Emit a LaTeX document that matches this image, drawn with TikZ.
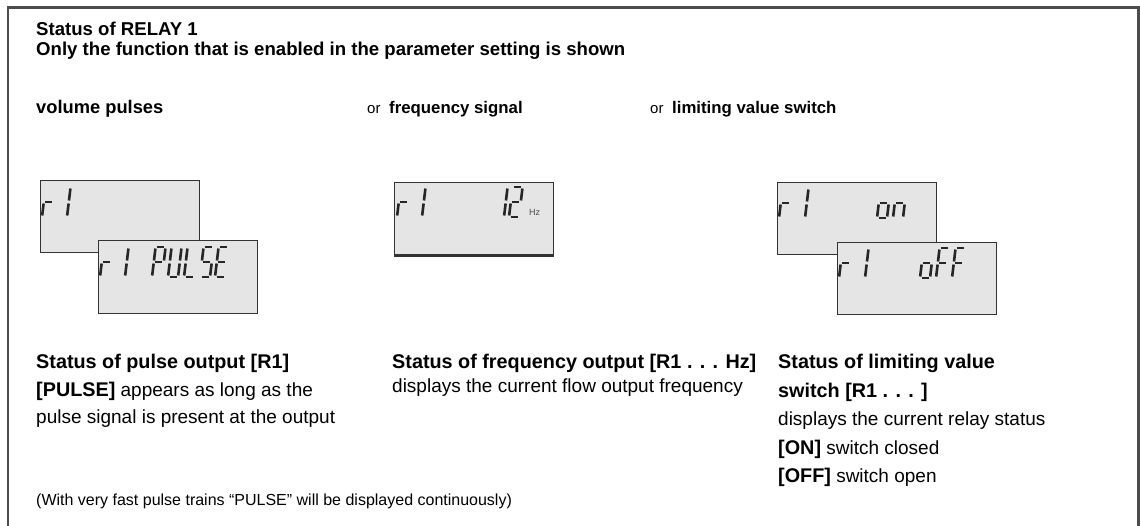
\documentclass[tikz,border=0pt]{standalone}
\usepackage{fontspec}
\setmainfont{Liberation Sans}
\tikzset{
  frame/.style={line width=2.2pt, draw=black!70},
  lcdbox/.style={fill=black!10, draw=black!80, line width=1.4pt, anchor=north west, inner sep=0pt, minimum width=159pt, minimum height=72pt},
  lcdseg/.style={line width=2.6pt, draw=black!85, line cap=butt},
  base/.style={anchor=base west, inner sep=0pt},
  txt/.style={base, font=\fontsize{19}{22}\selectfont},
  btxt/.style={base, font=\bfseries\fontsize{19.8}{22}\selectfont},
  hdr/.style={base, font=\bfseries\fontsize{18.6}{21}\selectfont},
  orlbl/.style={base, font=\fontsize{15}{18}\selectfont},
  note/.style={base, font=\fontsize{16}{19}\selectfont},
  hz/.style={base, font=\fontsize{9}{10}\selectfont, text=black!70}
}
\newcommand\bx[1]{{\bfseries\fontsize{19.8}{22}\selectfont #1}}
% segment coordinates: xa/ya/xb/yb  (local, y upward, W=10, H=30)
\def\chR{0/1.5/0/13.5, 1.5/15/8.5/15}
\def\chI{0/1.5/0/13.5, 0/16.5/0/28.5}
\def\chP{1.5/30/8.5/30, 10/28.5/10/16.5, 1.5/15/8.5/15, 0/1.5/0/13.5, 0/16.5/0/28.5}
\def\chU{10/28.5/10/16.5, 10/13.5/10/1.5, 1.5/0/8.5/0, 0/1.5/0/13.5, 0/16.5/0/28.5}
\def\chL{1.5/0/8.5/0, 0/1.5/0/13.5, 0/16.5/0/28.5}
\def\chS{1.5/30/8.5/30, 0/16.5/0/28.5, 1.5/15/8.5/15, 10/13.5/10/1.5, 1.5/0/8.5/0}
\def\chE{1.5/30/8.5/30, 0/16.5/0/28.5, 1.5/15/8.5/15, 0/1.5/0/13.5, 1.5/0/8.5/0}
\def\chO{10/13.5/10/1.5, 1.5/0/8.5/0, 0/1.5/0/13.5, 1.5/15/8.5/15}
\def\chN{10/13.5/10/1.5, 0/1.5/0/13.5, 1.5/15/8.5/15}
\def\chF{1.5/30/8.5/30, 0/16.5/0/28.5, 1.5/15/8.5/15, 0/1.5/0/13.5}
\def\chTwo{1.5/30/8.5/30, 10/28.5/10/16.5, 1.5/15/8.5/15, 0/1.5/0/13.5, 1.5/0/8.5/0}
\newcommand\lcdch[3]{%
  \begin{scope}[shift={(#1,#2)}, xslant=0.12, yscale=-1]
    \foreach \xa/\ya/\xb/\yb in #3 {\draw[lcdseg] (\xa,\ya) -- (\xb,\yb);}
  \end{scope}}
\begin{document}
\begin{tikzpicture}[x=1pt, y=-1pt]
\useasboundingbox (0,0) rectangle (1140,526);
\clip (0,0) rectangle (1140,526);
% outer frame (open at the bottom)
\draw[frame] (8,540) -- (8,7.5) -- (1138.5,7.5) -- (1138.5,540);

% header
\node[hdr] (h1) at (36,36) {Status of RELAY 1};
\node[hdr] (h2) at (36,56) {Only the function that is enabled in the parameter setting is shown};

% column headings
\node[base, font=\bfseries\fontsize{18.3}{21}\selectfont] (t1) at (36,114) {volume pulses};
\node[orlbl] (or1) at (367,114) {or};
\node[base, font=\bfseries\fontsize{16.8}{20}\selectfont] (t2) at (389,114) {frequency signal};
\node[orlbl] (or2) at (650,114) {or};
\node[base, font=\bfseries\fontsize{16.8}{20}\selectfont] (t3) at (672,114) {limiting value switch};

% LCD displays
\node[lcdbox] (a1) at (40,180) {};
\node[lcdbox, minimum height=73pt] (a2) at (98,240) {};
\node[lcdbox] (b1) at (394,182) {};
\draw[line width=2.8pt, draw=black!80] ([yshift=-0.6pt]b1.south west) -- ([yshift=-0.6pt]b1.south east);
\node[lcdbox] (c1) at (777,182) {};
\node[lcdbox] (c2) at (837,242) {};

% display A1: r1
\lcdch{42}{217}{\chR}
\lcdch{67}{217}{\chI}
% display A2: r1 PULSE
\lcdch{100}{277}{\chR}
\lcdch{125}{277}{\chI}
\lcdch{152}{277}{\chP}
\lcdch{168}{277}{\chU}
\lcdch{184}{277}{\chL}
\lcdch{200}{277}{\chS}
\lcdch{215}{277}{\chE}
% display B: r1 12 Hz
\lcdch{397}{217}{\chR}
\lcdch{422}{217}{\chI}
\lcdch{504}{217}{\chI}
\lcdch{509}{217}{\chTwo}
\node[hz] (hzl) at (529,216) {Hz};
% display C1: r1 on
\lcdch{779}{218}{\chR}
\lcdch{805}{218}{\chI}
\lcdch{877}{218}{\chO}
\lcdch{893}{218}{\chN}
% display C2: r1 oFF
\lcdch{839}{278}{\chR}
\lcdch{865}{278}{\chI}
\lcdch{920}{278}{\chO}
\lcdch{936}{278}{\chF}
\lcdch{952}{278}{\chF}

% column 1 text
\node[btxt] (p1) at (36,369) {Status of pulse output [R1]};
\node[txt] (p2) at (36,396) {\bx{[PULSE]} appears as long as the};
\node[txt] (p3) at (36,423) {pulse signal is present at the output};
% column 2 text
\node[btxt] (f1) at (392,369) {Status of frequency output [R1 . . . Hz]};
\node[txt] (f2) at (392,392) {displays the current flow output frequency};
% column 3 text
\node[btxt] (l1) at (778,369) {Status of limiting value};
\node[btxt] (l2) at (778,397) {switch [R1 . . . ]};
\node[txt] (l3) at (778,425) {displays the current relay status};
\node[txt] (l4) at (778,454) {\bx{[ON]} switch closed};
\node[txt] (l5) at (778,482) {\bx{[OFF]} switch open};

% footnote
\node[note] (fn) at (36,505) {(With very fast pulse trains “PULSE” will be displayed continuously)};
\end{tikzpicture}
\end{document}
